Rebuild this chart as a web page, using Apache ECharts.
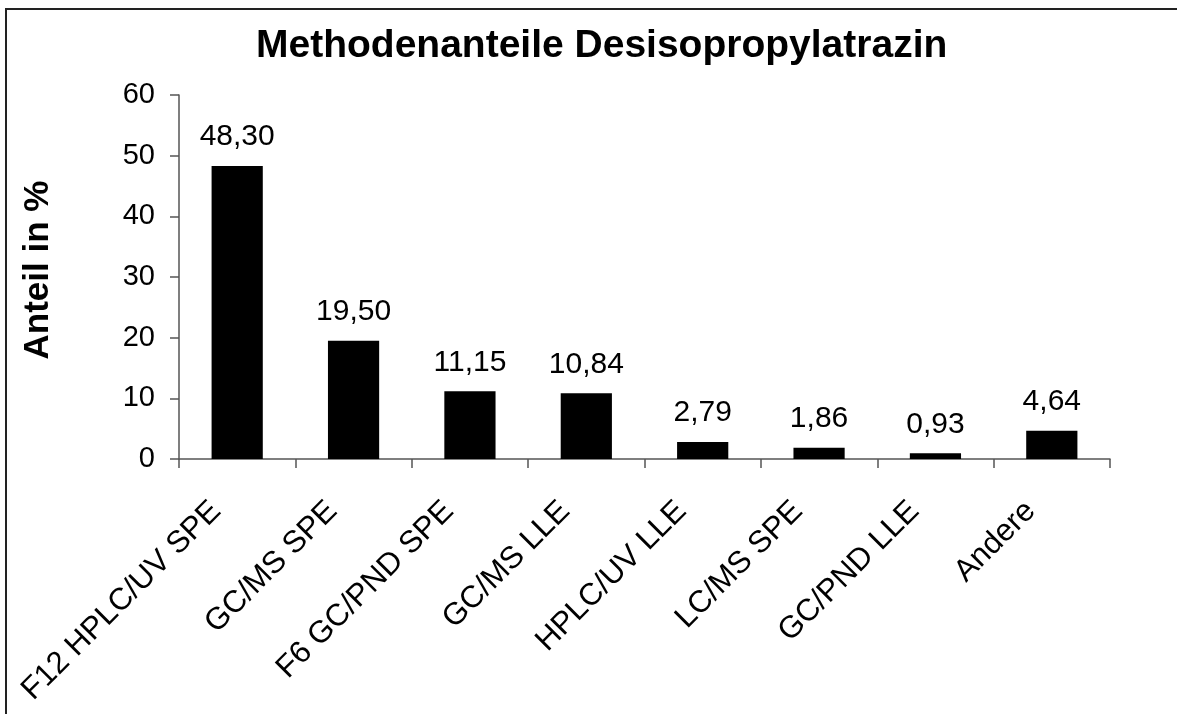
<!DOCTYPE html>
<html>
<head>
<meta charset="utf-8">
<script src="https://cdn.jsdelivr.net/npm/echarts@6/dist/echarts.min.js"></script>
<style>
  html, body { margin: 0; padding: 0; background: #fff; }
  #chart { width: 1177px; height: 714px; }
</style>
</head>
<body>
<div id="chart"></div>
<script>
// Methodenanteile Desisopropylatrazin
const categories = ['F12 HPLC/UV SPE', 'GC/MS SPE', 'F6 GC/PND SPE', 'GC/MS LLE', 'HPLC/UV LLE', 'LC/MS SPE', 'GC/PND LLE', 'Andere'];
const anteile = [48.30, 19.50, 11.15, 10.84, 2.79, 1.86, 0.93, 4.64];
const yTicks = [0, 10, 20, 30, 40, 50, 60];

const font = 'Liberation Sans, Arial, sans-serif';
const chart = echarts.init(document.getElementById('chart'));

chart.setOption({
  animation: false,
  backgroundColor: '#fff',
  title: {
    text: 'Methodenanteile Desisopropylatrazin',
    left: 251,
    top: 22,
    textStyle: { fontFamily: font, fontSize: 39, fontWeight: 'bold', color: '#000' }
  },
  graphic: [{
    type: 'rect',
    shape: { x: 6, y: 9, width: 1200, height: 740 },
    style: { fill: 'none', stroke: '#222', lineWidth: 2 },
    silent: true
  }],
  grid: { left: 179, right: 67, top: 95, bottom: 255 },
  xAxis: {
    type: 'category',
    data: categories,
    axisLine: { lineStyle: { color: '#555', width: 1.5 } },
    axisTick: { show: true, inside: false, length: 9, alignWithLabel: false, lineStyle: { color: '#555', width: 1.5 } },
    axisLabel: {
      rotate: 45,
      interval: 0,
      margin: 26,
      padding: [0, 30, 0, 0],
      fontFamily: font,
      fontSize: 31,
      color: '#000'
    }
  },
  yAxis: {
    type: 'value',
    min: yTicks[0],
    max: yTicks[yTicks.length - 1],
    interval: 10,
    name: 'Anteil in %',
    nameLocation: 'middle',
    nameGap: 123,
    nameRotate: 90,
    nameTextStyle: { fontFamily: font, fontSize: 35, fontWeight: 'bold', color: '#000', padding: [0, 0, 0, 14] },
    axisLine: { show: true, lineStyle: { color: '#555', width: 1.5 } },
    axisTick: { show: true, length: 9, lineStyle: { color: '#555', width: 1.5 } },
    splitLine: { show: false },
    axisLabel: { fontFamily: font, fontSize: 29, color: '#000', margin: 24 }
  },
  series: [{
    type: 'bar',
    data: anteile,
    barWidth: '44%',
    itemStyle: { color: '#000' },
    label: {
      show: true,
      position: 'top',
      distance: 14,
      fontFamily: font,
      fontSize: 30,
      color: '#000',
      formatter: p => p.value.toFixed(2).replace('.', ',')
    }
  }]
});
</script>
</body>
</html>
